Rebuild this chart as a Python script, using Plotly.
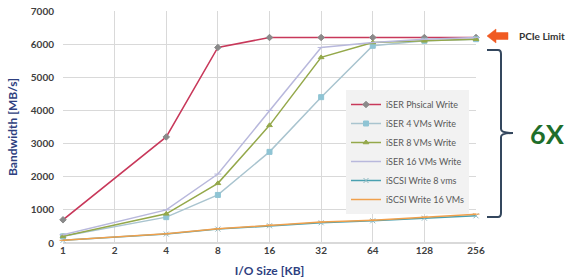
import plotly.graph_objects as go

io_sizes = [1, 4, 8, 16, 32, 64, 128, 256]
tick_labels = ["1", "2", "4", "8", "16", "32", "64", "128", "256"]
tick_pos = [0, 1, 2, 3, 4, 5, 6, 7, 8]
x_pos = [0, 2, 3, 4, 5, 6, 7, 8]  # log2 of io size

iser_phys = [700, 3200, 5900, 6200, 6200, 6200, 6200, 6200]
iser_4vm = [200, 780, 1450, 2750, 4400, 5950, 6100, 6150]
iser_8vm = [200, 880, 1800, 3550, 5600, 6050, 6100, 6150]
iser_16vm = [250, 1000, 2080, 4000, 5900, 6050, 6150, 6200]
iscsi_8vm = [80, 270, 420, 520, 610, 670, 750, 820]
iscsi_16vm = [80, 280, 430, 540, 630, 690, 780, 870]

names = ["iSER Phsical Write", "iSER 4 VMs Write", "iSER 8 VMs Write",
         "iSER 16 VMs Write", "iSCSI Write 8 vms", "iSCSI Write 16 VMs"]

series = [iser_phys, iser_4vm, iser_8vm, iser_16vm, iscsi_8vm, iscsi_16vm]
line_colors = ["#c8385a", "#a9c4cf", "#94a84a", "#b8b8dc", "#4aa0b0", "#f0a04c"]
marker_colors = ["#8a8a8a", "#8fc4d4", "#94a84a", "#b8b8dc", "#8fb8c0", "#f0a04c"]
symbols = ["diamond", "square", "triangle-up", "line-ew", "x-thin", "line-ew"]

fig = go.Figure()
for name, ys, lc, mc, sym in zip(names, series, line_colors, marker_colors, symbols):
    fig.add_trace(go.Scatter(
        x=x_pos, y=ys, name=name, mode="lines+markers",
        line=dict(color=lc, width=1.5),
        marker=dict(color=mc, size=5, symbol=sym, line=dict(color=mc, width=1)),
        cliponaxis=False,
    ))

L, R, T, B = 63, 97, 11, 35
W, H = 573, 278
pw = W - L - R
ph = H - T - B

def px(x):
    return (x - L) / pw

def py(y):
    return (H - B - y) / ph

bracket = (f"M{px(487)},{py(50)} L{px(498)},{py(50)} Q{px(501)},{py(50)} {px(501)},{py(54)} "
           f"L{px(501)},{py(129)} Q{px(501)},{py(133)} {px(513)},{py(133)} "
           f"Q{px(501)},{py(133)} {px(501)},{py(137)} "
           f"L{px(501)},{py(213)} Q{px(501)},{py(217)} {px(498)},{py(217)} L{px(487)},{py(217)}")

arrow = (f"M{px(487)},{py(36)} L{px(496)},{py(29)} L{px(496)},{py(32.5)} L{px(508)},{py(32.5)} "
         f"L{px(508)},{py(39.5)} L{px(496)},{py(39.5)} L{px(496)},{py(43)} Z")

fig.update_layout(
    width=W, height=H,
    margin=dict(l=L, r=R, t=T, b=B, autoexpand=False),
    paper_bgcolor="white", plot_bgcolor="white",
    font=dict(family="Lato, Open Sans, sans-serif", color="#404040"),
    xaxis=dict(range=[0, 8], tickvals=tick_pos, ticktext=tick_labels, automargin=False,
               showgrid=True, gridcolor="#d9d9d9", gridwidth=1, zeroline=False,
               showline=False, ticks="", tickfont=dict(size=10, color="#404040", weight="bold"),
               title=dict(text="I/O Size [KB]", font=dict(size=12, color="#2e3f80", weight="bold"),
                          standoff=16)),
    yaxis=dict(range=[0, 7000], dtick=1000, showgrid=True, gridcolor="#d9d9d9", automargin=False,
               zeroline=True, zerolinecolor="#d9d9d9", showline=False, ticks="",
               ticklabelstandoff=8,
               tickfont=dict(size=10, color="#404040", weight="bold"),
               title=dict(text="Bandwidth [MB/s]", font=dict(size=12, color="#2e3f80", weight="bold"),
                          standoff=10)),
    legend=dict(x=px(346), y=py(90), xanchor="left", yanchor="top",
                bgcolor="#f2f2f2", borderwidth=0,
                font=dict(size=9, color="#595959"),
                tracegroupgap=0, itemwidth=30),
    shapes=[
        dict(type="path", xref="paper", yref="paper", path=bracket,
             line=dict(color="#34475e", width=2)),
        dict(type="path", xref="paper", yref="paper", path=arrow,
             fillcolor="#f05a22", line=dict(color="#f05a22", width=0.5)),
    ],
    annotations=[
        dict(text="PCIe Limit", xref="paper", yref="paper", x=px(517), y=py(36),
             xanchor="left", yanchor="middle", showarrow=False,
             font=dict(size=10, color="#333333", weight="bold")),
        dict(text="6X", xref="paper", yref="paper", x=px(547), y=py(133),
             xanchor="center", yanchor="middle", showarrow=False,
             font=dict(size=27, color="#1e6e2a", weight="bold")),
    ],
)

fig.write_html("out.html")
